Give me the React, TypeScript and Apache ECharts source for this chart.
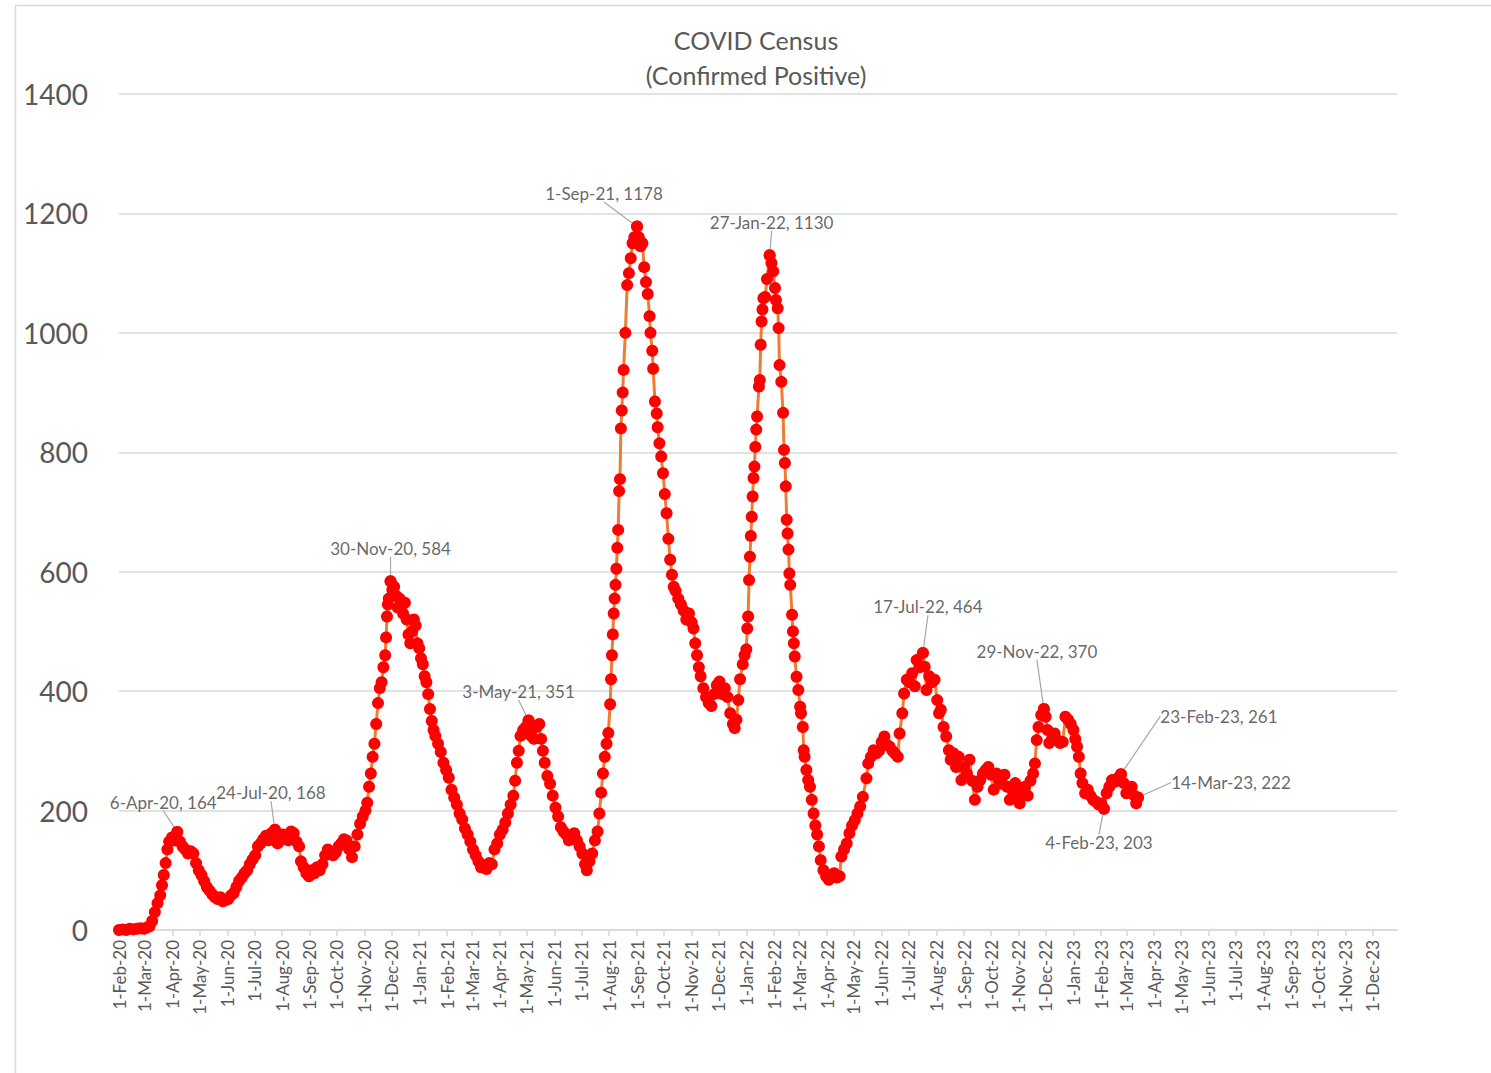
import React, { useEffect, useRef } from "react";
import * as echarts from "echarts";

// ---- data: [date, confirmed positive census] ----
const census2020: [string, number][] = [
  ["2020-02-01", 0], ["2020-02-05", 1], ["2020-02-09", 0], ["2020-02-13", 2], ["2020-02-17", 1], ["2020-02-21", 2],
  ["2020-02-25", 3], ["2020-02-29", 2], ["2020-03-03", 4], ["2020-03-06", 6], ["2020-03-09", 15], ["2020-03-12", 30],
  ["2020-03-15", 45], ["2020-03-18", 58], ["2020-03-20", 75], ["2020-03-22", 92], ["2020-03-24", 112], ["2020-03-26", 135],
  ["2020-03-28", 148], ["2020-03-31", 155], ["2020-04-03", 150], ["2020-04-06", 164], ["2020-04-09", 148], ["2020-04-12", 140],
  ["2020-04-15", 135], ["2020-04-18", 128], ["2020-04-21", 132], ["2020-04-24", 128], ["2020-04-27", 112], ["2020-04-30", 100],
  ["2020-05-03", 92], ["2020-05-06", 82], ["2020-05-09", 72], ["2020-05-12", 66], ["2020-05-15", 60], ["2020-05-18", 55],
  ["2020-05-21", 52], ["2020-05-24", 55], ["2020-05-27", 48], ["2020-05-30", 50], ["2020-06-02", 52], ["2020-06-05", 58],
  ["2020-06-08", 62], ["2020-06-11", 72], ["2020-06-14", 82], ["2020-06-17", 88], ["2020-06-20", 95], ["2020-06-23", 100],
  ["2020-06-26", 110], ["2020-06-29", 118], ["2020-07-02", 125], ["2020-07-05", 140], ["2020-07-08", 145], ["2020-07-11", 152],
  ["2020-07-14", 158], ["2020-07-17", 150], ["2020-07-20", 162], ["2020-07-24", 168], ["2020-07-27", 145], ["2020-07-30", 150],
  ["2020-08-02", 160], ["2020-08-05", 155], ["2020-08-08", 150], ["2020-08-11", 165], ["2020-08-14", 162], ["2020-08-17", 148],
  ["2020-08-20", 140], ["2020-08-22", 115], ["2020-08-25", 105], ["2020-08-28", 95], ["2020-08-31", 90], ["2020-09-03", 100],
  ["2020-09-06", 95], ["2020-09-09", 105], ["2020-09-12", 100], ["2020-09-15", 110], ["2020-09-18", 125], ["2020-09-21", 135],
  ["2020-09-24", 130], ["2020-09-27", 125], ["2020-09-30", 130], ["2020-10-03", 140], ["2020-10-06", 145], ["2020-10-09", 152],
  ["2020-10-12", 150], ["2020-10-15", 135], ["2020-10-18", 122], ["2020-10-21", 140], ["2020-10-24", 160], ["2020-10-27", 178],
  ["2020-10-30", 190], ["2020-11-02", 200], ["2020-11-04", 213], ["2020-11-06", 240], ["2020-11-08", 262], ["2020-11-10", 290],
  ["2020-11-12", 312], ["2020-11-14", 345], ["2020-11-16", 380], ["2020-11-18", 405], ["2020-11-20", 415], ["2020-11-22", 440],
  ["2020-11-24", 460], ["2020-11-25", 490], ["2020-11-26", 525], ["2020-11-27", 545], ["2020-11-28", 555], ["2020-11-30", 584],
  ["2020-12-02", 570], ["2020-12-04", 575], ["2020-12-06", 560], ["2020-12-08", 540], ["2020-12-10", 555], ["2020-12-12", 545],
  ["2020-12-14", 530], ["2020-12-16", 548], ["2020-12-18", 520], ["2020-12-20", 495], ["2020-12-22", 480], ["2020-12-24", 500],
  ["2020-12-26", 520], ["2020-12-28", 510], ["2020-12-30", 480],
];

const census2021: [string, number][] = [
  ["2021-01-01", 472], ["2021-01-03", 455], ["2021-01-05", 445], ["2021-01-07", 425], ["2021-01-09", 415], ["2021-01-11", 395],
  ["2021-01-13", 370], ["2021-01-15", 350], ["2021-01-17", 335], ["2021-01-19", 325], ["2021-01-22", 312], ["2021-01-25", 298],
  ["2021-01-28", 280], ["2021-01-31", 268], ["2021-02-03", 255], ["2021-02-06", 235], ["2021-02-09", 222], ["2021-02-12", 210],
  ["2021-02-15", 195], ["2021-02-18", 185], ["2021-02-21", 170], ["2021-02-24", 160], ["2021-02-27", 148], ["2021-03-02", 135],
  ["2021-03-05", 125], ["2021-03-08", 115], ["2021-03-11", 105], ["2021-03-14", 108], ["2021-03-17", 102], ["2021-03-20", 112],
  ["2021-03-23", 110], ["2021-03-26", 135], ["2021-03-29", 145], ["2021-04-01", 160], ["2021-04-04", 168], ["2021-04-07", 180],
  ["2021-04-10", 195], ["2021-04-13", 210], ["2021-04-16", 225], ["2021-04-18", 250], ["2021-04-20", 280], ["2021-04-22", 300],
  ["2021-04-24", 325], ["2021-04-27", 335], ["2021-04-30", 340], ["2021-05-03", 351], ["2021-05-06", 325], ["2021-05-09", 320],
  ["2021-05-12", 340], ["2021-05-15", 345], ["2021-05-17", 320], ["2021-05-19", 300], ["2021-05-21", 280], ["2021-05-24", 258],
  ["2021-05-27", 245], ["2021-05-30", 225], ["2021-06-02", 205], ["2021-06-05", 190], ["2021-06-08", 172], ["2021-06-11", 165],
  ["2021-06-14", 160], ["2021-06-17", 150], ["2021-06-20", 155], ["2021-06-23", 162], ["2021-06-26", 150], ["2021-06-29", 140],
  ["2021-07-02", 128], ["2021-07-05", 110], ["2021-07-07", 100], ["2021-07-10", 115], ["2021-07-13", 128], ["2021-07-16", 150],
  ["2021-07-19", 165], ["2021-07-21", 195], ["2021-07-23", 230], ["2021-07-25", 262], ["2021-07-27", 290], ["2021-07-29", 312],
  ["2021-07-31", 330], ["2021-08-02", 378], ["2021-08-03", 420], ["2021-08-04", 460], ["2021-08-05", 495], ["2021-08-06", 530],
  ["2021-08-07", 555], ["2021-08-08", 578], ["2021-08-09", 605], ["2021-08-10", 640], ["2021-08-11", 670], ["2021-08-12", 735],
  ["2021-08-13", 755], ["2021-08-14", 840], ["2021-08-15", 870], ["2021-08-16", 900], ["2021-08-17", 938], ["2021-08-19", 1000],
  ["2021-08-21", 1080], ["2021-08-23", 1100], ["2021-08-25", 1125], ["2021-08-27", 1150], ["2021-08-29", 1160], ["2021-09-01", 1178],
  ["2021-09-03", 1160], ["2021-09-05", 1145], ["2021-09-07", 1150], ["2021-09-09", 1110], ["2021-09-11", 1085], ["2021-09-13", 1065],
  ["2021-09-15", 1028], ["2021-09-16", 1000], ["2021-09-18", 970], ["2021-09-19", 940], ["2021-09-21", 885], ["2021-09-23", 865],
  ["2021-09-24", 842], ["2021-09-26", 815], ["2021-09-28", 793], ["2021-09-30", 765], ["2021-10-02", 730], ["2021-10-04", 698],
  ["2021-10-06", 655], ["2021-10-08", 620], ["2021-10-10", 595], ["2021-10-12", 575], ["2021-10-14", 568], ["2021-10-17", 555],
  ["2021-10-20", 545], ["2021-10-23", 535], ["2021-10-26", 520], ["2021-10-29", 530], ["2021-11-01", 515], ["2021-11-03", 505],
  ["2021-11-05", 480], ["2021-11-07", 460], ["2021-11-09", 440], ["2021-11-11", 425], ["2021-11-14", 405], ["2021-11-17", 390],
  ["2021-11-20", 380], ["2021-11-23", 375], ["2021-11-26", 395], ["2021-11-29", 410], ["2021-12-02", 416], ["2021-12-05", 395],
  ["2021-12-08", 405], ["2021-12-11", 390], ["2021-12-14", 363], ["2021-12-17", 345], ["2021-12-19", 338], ["2021-12-21", 352],
  ["2021-12-23", 385], ["2021-12-25", 420], ["2021-12-28", 445], ["2021-12-30", 460],
];

const census2022: [string, number][] = [
  ["2022-01-01", 470], ["2022-01-02", 505], ["2022-01-03", 525], ["2022-01-04", 586], ["2022-01-05", 625], ["2022-01-06", 660],
  ["2022-01-07", 692], ["2022-01-08", 726], ["2022-01-09", 757], ["2022-01-10", 776], ["2022-01-11", 809], ["2022-01-12", 838],
  ["2022-01-13", 860], ["2022-01-15", 910], ["2022-01-16", 921], ["2022-01-17", 980], ["2022-01-18", 1019], ["2022-01-19", 1039],
  ["2022-01-20", 1058], ["2022-01-22", 1060], ["2022-01-24", 1090], ["2022-01-27", 1130], ["2022-01-29", 1117], ["2022-01-31", 1103],
  ["2022-02-02", 1075], ["2022-02-03", 1055], ["2022-02-05", 1041], ["2022-02-06", 1008], ["2022-02-07", 946], ["2022-02-09", 918],
  ["2022-02-11", 866], ["2022-02-12", 804], ["2022-02-13", 782], ["2022-02-14", 743], ["2022-02-15", 687], ["2022-02-16", 664],
  ["2022-02-17", 637], ["2022-02-18", 597], ["2022-02-19", 578], ["2022-02-21", 528], ["2022-02-22", 500], ["2022-02-23", 480],
  ["2022-02-24", 458], ["2022-02-26", 424], ["2022-02-28", 402], ["2022-03-02", 374], ["2022-03-03", 363], ["2022-03-05", 340],
  ["2022-03-06", 301], ["2022-03-07", 290], ["2022-03-09", 268], ["2022-03-11", 251], ["2022-03-13", 240], ["2022-03-15", 218],
  ["2022-03-17", 195], ["2022-03-19", 175], ["2022-03-21", 160], ["2022-03-23", 140], ["2022-03-25", 117], ["2022-03-28", 100],
  ["2022-03-31", 90], ["2022-04-03", 84], ["2022-04-06", 92], ["2022-04-09", 95], ["2022-04-12", 88], ["2022-04-15", 90],
  ["2022-04-17", 123], ["2022-04-20", 135], ["2022-04-23", 145], ["2022-04-26", 162], ["2022-04-29", 175], ["2022-05-02", 184],
  ["2022-05-05", 195], ["2022-05-08", 207], ["2022-05-11", 223], ["2022-05-15", 254], ["2022-05-17", 279], ["2022-05-20", 290],
  ["2022-05-23", 301], ["2022-05-26", 296], ["2022-05-29", 300], ["2022-06-01", 315], ["2022-06-04", 324], ["2022-06-07", 310],
  ["2022-06-10", 307], ["2022-06-13", 300], ["2022-06-16", 295], ["2022-06-19", 290], ["2022-06-21", 329], ["2022-06-24", 363],
  ["2022-06-26", 396], ["2022-06-29", 419], ["2022-07-02", 415], ["2022-07-05", 430], ["2022-07-08", 408], ["2022-07-10", 452],
  ["2022-07-13", 440], ["2022-07-17", 464], ["2022-07-19", 441], ["2022-07-21", 402], ["2022-07-24", 425], ["2022-07-27", 415],
  ["2022-07-30", 419], ["2022-08-02", 385], ["2022-08-04", 363], ["2022-08-06", 369], ["2022-08-09", 340], ["2022-08-12", 324],
  ["2022-08-15", 301], ["2022-08-17", 285], ["2022-08-20", 296], ["2022-08-23", 273], ["2022-08-26", 290], ["2022-08-29", 251],
  ["2022-09-01", 273], ["2022-09-04", 262], ["2022-09-07", 285], ["2022-09-10", 250], ["2022-09-13", 218], ["2022-09-16", 240],
  ["2022-09-19", 251], ["2022-09-22", 262], ["2022-09-25", 268], ["2022-09-28", 273], ["2022-10-01", 260], ["2022-10-04", 235],
  ["2022-10-07", 262], ["2022-10-10", 251], ["2022-10-13", 245], ["2022-10-16", 260], ["2022-10-19", 240], ["2022-10-22", 218],
  ["2022-10-25", 235], ["2022-10-28", 246], ["2022-10-31", 225], ["2022-11-02", 212], ["2022-11-05", 230], ["2022-11-08", 240],
  ["2022-11-11", 225], ["2022-11-14", 250], ["2022-11-17", 262], ["2022-11-19", 279], ["2022-11-21", 318], ["2022-11-23", 340],
  ["2022-11-26", 360], ["2022-11-29", 370], ["2022-12-01", 357], ["2022-12-03", 335], ["2022-12-05", 313], ["2022-12-08", 320],
  ["2022-12-11", 329], ["2022-12-14", 318], ["2022-12-17", 313], ["2022-12-20", 315], ["2022-12-23", 357], ["2022-12-26", 352],
  ["2022-12-29", 345],
];

const census2023: [string, number][] = [
  ["2023-01-01", 335], ["2023-01-03", 320], ["2023-01-05", 307], ["2023-01-07", 290], ["2023-01-09", 262], ["2023-01-11", 246],
  ["2023-01-14", 229], ["2023-01-17", 235], ["2023-01-20", 225], ["2023-01-23", 218], ["2023-01-26", 215], ["2023-01-29", 210],
  ["2023-02-01", 212], ["2023-02-04", 203], ["2023-02-07", 229], ["2023-02-10", 240], ["2023-02-13", 251], ["2023-02-16", 248],
  ["2023-02-20", 255], ["2023-02-23", 261], ["2023-02-26", 246], ["2023-03-01", 229], ["2023-03-04", 235], ["2023-03-07", 240],
  ["2023-03-10", 225], ["2023-03-12", 212], ["2023-03-14", 222],
];

// annotated points and label offsets (dx, dy from the point)
const annotations: [string, number][] = [
  ["2020-04-06", 164], ["2020-07-24", 168], ["2020-11-30", 584], ["2021-05-03", 351], ["2021-09-01", 1178],
  ["2022-01-27", 1130], ["2022-07-17", 464], ["2022-11-29", 370], ["2023-02-04", 203], ["2023-02-23", 261], ["2023-03-14", 222],
];
const annotationOffsets: [number, number][] = [
  [-14, -30], [-4, -37], [0, -33], [-10, -29], [-33, -33], [2, -33], [5, -46], [-7, -58], [-5, 34], [98, -58], [93, -15],
];

const yTicks = [0, 200, 400, 600, 800, 1000, 1200, 1400];
const xStart = "2020-02-01";
const xEnd = "2023-12-28";
const MONTHS = ["Jan", "Feb", "Mar", "Apr", "May", "Jun", "Jul", "Aug", "Sep", "Oct", "Nov", "Dec"];

const DAY = 86400000;
function dayNum(s: string): number {
  const [y, m, d] = s.split("-").map(Number);
  return Date.UTC(y, m - 1, d) / DAY;
}
function fmtDay(v: number): string {
  const dt = new Date(Math.round(v) * DAY);
  return `${dt.getUTCDate()}-${MONTHS[dt.getUTCMonth()]}-${String(dt.getUTCFullYear()).slice(2)}`;
}
// month-start ticks 1-Feb-20 ... 1-Dec-23
const monthTicks: number[] = [];
for (let y = 2020; y <= 2023; y++) {
  for (let m = 0; m < 12; m++) {
    if (y === 2020 && m < 1) continue;
    monthTicks.push(Date.UTC(y, m, 1) / DAY);
  }
}

export default function App() {
  const ref = useRef<HTMLDivElement>(null);
  useEffect(() => {
    document.body.style.margin = "0";
    if (!ref.current) return;
    const chart = echarts.init(ref.current, null, { renderer: "svg" });
    const all = [...census2020, ...census2021, ...census2022, ...census2023].map(([d, v]) => [dayNum(d), v]);
    const ann = annotations.map(([d, v]) => [dayNum(d), v]);
    const font = "Lato, 'Open Sans', sans-serif";
    chart.setOption({
      animation: false,
      backgroundColor: "#ffffff",
      textStyle: { fontFamily: font },
      title: {
        text: "COVID Census\n(Confirmed Positive)",
        left: 751,
        top: 17,
        textAlign: "center",
        textStyle: { fontSize: 25, fontWeight: "normal", color: "#595959", lineHeight: 35, fontFamily: font },
      },
      graphic: [
        {
          type: "rect",
          shape: { x: 15.5, y: 5.5, width: 1600, height: 1200 },
          style: { fill: "none", stroke: "#d9d9d9", lineWidth: 1.5 },
          silent: true,
          z: -10,
        },
      ],
      grid: { left: 119, right: 94, top: 94, bottom: 143 },
      xAxis: {
        type: "value",
        min: dayNum(xStart),
        max: dayNum(xEnd),
        splitLine: { show: false },
        axisLine: { show: true, lineStyle: { color: "#d9d9d9", width: 1.5 } },
        axisTick: { show: true, customValues: monthTicks, length: 6, lineStyle: { color: "#d9d9d9", width: 1.5 } },
        axisLabel: {
          customValues: monthTicks,
          rotate: 90,
          margin: 10,
          fontSize: 17,
          color: "#595959",
          fontFamily: font,
          formatter: (v: number) => fmtDay(v),
        },
      },
      yAxis: {
        type: "value",
        min: 0,
        max: 1400,
        interval: 200,
        axisLine: { show: false },
        axisTick: { show: false },
        splitLine: { lineStyle: { color: "#d9d9d9", width: 1.5 } },
        axisLabel: {
          fontSize: 28,
          color: "#595959",
          margin: 31,
          fontFamily: font,
          formatter: (v: number) => (yTicks.includes(v) ? String(v) : ""),
        },
      },
      series: [
        {
          type: "line",
          data: all,
          symbol: "circle",
          symbolSize: 12,
          showAllSymbol: true,
          itemStyle: { color: "#ff0000" },
          lineStyle: { color: "#ed7d31", width: 3 },
          z: 2,
        },
        {
          type: "scatter",
          data: ann,
          symbolSize: 12,
          itemStyle: { color: "#ff0000" },
          z: 3,
          label: {
            show: true,
            position: "inside",
            fontSize: 17,
            color: "#404040",
            fontFamily: font,
            formatter: (p: any) => `${fmtDay(p.value[0])}, ${p.value[1]}`,
          },
          labelLine: { show: true, lineStyle: { color: "#a6a6a6", width: 1.2 } },
          labelLayout: (p: any) => ({
            dx: annotationOffsets[p.dataIndex][0],
            dy: annotationOffsets[p.dataIndex][1],
          }),
        },
      ],
    });
    return () => chart.dispose();
  }, []);
  return <div ref={ref} style={{ width: 1491, height: 1073 }} />;
}
